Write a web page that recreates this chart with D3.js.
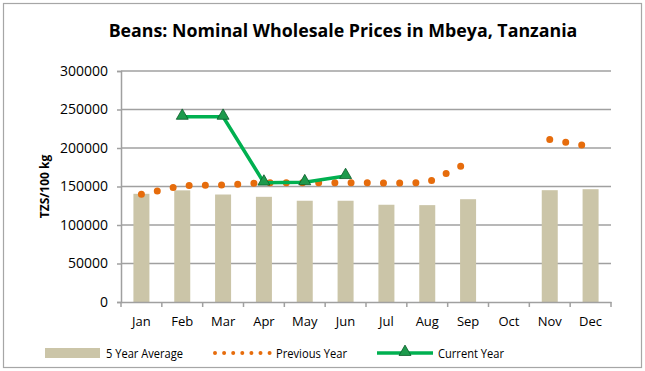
<!DOCTYPE html>
<html>
<head>
<meta charset="utf-8">
<script src="https://cdn.jsdelivr.net/npm/d3@7"></script>
<style>
  html, body { margin: 0; padding: 0; background: #fff; }
  svg { display: block; font-family: "Open Sans", Lato, sans-serif; }
</style>
</head>
<body>
<svg id="chart" width="645" height="371"></svg>
<script>
// Monthly wholesale prices of beans in Mbeya (TZS per 100 kg)
const months = ["Jan","Feb","Mar","Apr","May","Jun","Jul","Aug","Sep","Oct","Nov","Dec"];
const fiveYearAvg = [140500, 145000, 139600, 136600, 131500, 131500, 126300, 125800, 133500, null, 145200, 146500];
const previousYear = [140000, 151000, 152000, 155000, 155000, 155000, 154500, 155000, 181000, null, 211000, 202000];
const currentYear = [null, 240500, 240500, 155000, 155500, 163500, null, null, null, null, null, null];
const yTicks = [0, 50000, 100000, 150000, 200000, 250000, 300000];
const legendLabels = ["5 Year Average", "Previous Year", "Current Year"];

const svg = d3.select("#chart");
const W = 645, H = 371;
const m = { left: 121, right: 34, top: 71, bottom: 69 };
const FONT = "'Open Sans', Lato, sans-serif";

// chart frame
svg.append("rect")
  .attr("x", 3.5).attr("y", 3.5)
  .attr("width", W - 7).attr("height", H - 7)
  .attr("fill", "#fff").attr("stroke", "#a6a6a6").attr("stroke-width", 1.2);

svg.append("text")
  .attr("x", 343).attr("y", 37)
  .attr("text-anchor", "middle")
  .attr("font-size", 17.8).attr("font-weight", "bold").attr("fill", "#000")
  .text("Beans: Nominal Wholesale Prices in Mbeya, Tanzania");

const x = d3.scaleBand().domain(months).range([m.left, W - m.right]).paddingInner(0).paddingOuter(0);
const y = d3.scaleLinear().domain([0, 300000]).range([H - m.bottom, m.top]);
const cx = d => x(d) + x.bandwidth() / 2;

// horizontal gridlines
svg.append("g").selectAll("line").data(yTicks.slice(1)).join("line")
  .attr("x1", m.left).attr("x2", W - m.right)
  .attr("y1", d => y(d)).attr("y2", d => y(d))
  .attr("stroke", "#a0a0a0").attr("stroke-width", 1.5);

// y axis
const yAxis = svg.append("g")
  .attr("transform", `translate(${m.left},0)`)
  .call(d3.axisLeft(y).tickValues(yTicks).tickSize(4).tickPadding(9).tickFormat(d3.format("d")));
yAxis.select(".domain").attr("stroke", "#a0a0a0").attr("stroke-width", 1.5);
yAxis.selectAll(".tick line").attr("stroke", "#a0a0a0").attr("stroke-width", 1.5);
yAxis.selectAll("text").attr("font-size", 14).attr("fill", "#000").attr("font-family", FONT);

svg.append("text")
  .attr("transform", `translate(49,${(m.top + H - m.bottom) / 2}) rotate(-90)`)
  .attr("text-anchor", "middle")
  .attr("font-size", 12).attr("font-weight", "bold")
  .text("TZS/100 kg");

// 5-year average bars
const barW = 16;
svg.append("g").selectAll("rect")
  .data(months.map((mo, i) => ({ mo, v: fiveYearAvg[i] })).filter(d => d.v != null))
  .join("rect")
  .attr("x", d => cx(d.mo) - barW / 2)
  .attr("width", barW)
  .attr("y", d => y(d.v))
  .attr("height", d => y(0) - y(d.v))
  .attr("fill", "#cbc5a8");

// x axis
const xAxis = svg.append("g")
  .attr("transform", `translate(0,${y(0)})`)
  .call(d3.axisBottom(x).tickSize(0).tickPadding(15));
xAxis.select(".domain").attr("stroke", "#a0a0a0").attr("stroke-width", 1.5);
xAxis.selectAll("text").attr("font-size", 13).attr("fill", "#000").attr("font-family", FONT);
// ticks between categories
svg.append("g").selectAll("line").data(d3.range(months.length + 1)).join("line")
  .attr("x1", i => m.left + i * x.step()).attr("x2", i => m.left + i * x.step())
  .attr("y1", y(0)).attr("y2", y(0) + 5)
  .attr("stroke", "#a0a0a0").attr("stroke-width", 1.5);

// previous year: round-dot line
const prevLine = d3.line()
  .defined(d => d.v != null)
  .x(d => cx(d.mo)).y(d => y(d.v));
svg.append("path")
  .datum(months.map((mo, i) => ({ mo, v: previousYear[i] })))
  .attr("d", prevLine)
  .attr("fill", "none")
  .attr("stroke", "#e66c0c")
  .attr("stroke-width", 7)
  .attr("stroke-linecap", "round")
  .attr("stroke-dasharray", "0,16.2");

// current year: line with triangle markers
const curData = months.map((mo, i) => ({ mo, v: currentYear[i] }));
svg.append("path")
  .datum(curData)
  .attr("d", d3.line().defined(d => d.v != null).x(d => cx(d.mo)).y(d => y(d.v)))
  .attr("fill", "none").attr("stroke", "#00b050").attr("stroke-width", 3.5);

const tri = d3.symbol().type(d3.symbolTriangle).size(62);
svg.append("g").selectAll("path")
  .data(curData.filter(d => d.v != null))
  .join("path")
  .attr("transform", d => `translate(${cx(d.mo)},${y(d.v) - 1})`)
  .attr("d", tri)
  .attr("fill", "#1d9a4c").attr("stroke", "#0b5a2a").attr("stroke-width", 0.8);

// legend (labels set in a slightly condensed width)
const ly = 353;
const lg = svg.append("g").attr("font-family", FONT).attr("font-size", 13.5);
const legendText = (label, lx, len) => lg.append("text")
  .attr("x", lx).attr("y", ly + 5)
  .attr("textLength", len).attr("lengthAdjust", "spacingAndGlyphs")
  .text(label);

lg.append("rect").attr("x", 45).attr("y", ly - 5).attr("width", 55).attr("height", 10).attr("fill", "#cbc5a8");
legendText(legendLabels[0], 106, 77);

lg.append("path")
  .attr("d", d3.line()([[215, ly], [270, ly]]))
  .attr("stroke", "#e66c0c").attr("stroke-width", 4).attr("stroke-linecap", "round")
  .attr("stroke-dasharray", "0,9.1").attr("fill", "none");
legendText(legendLabels[1], 276, 71);

lg.append("path")
  .attr("d", d3.line()([[377, ly], [433, ly]]))
  .attr("stroke", "#00b050").attr("stroke-width", 3.5).attr("fill", "none");
lg.append("path")
  .attr("transform", `translate(405,${ly - 1})`)
  .attr("d", tri)
  .attr("fill", "#1d9a4c").attr("stroke", "#0b5a2a").attr("stroke-width", 0.8);
legendText(legendLabels[2], 438, 66);
</script>
</body>
</html>
